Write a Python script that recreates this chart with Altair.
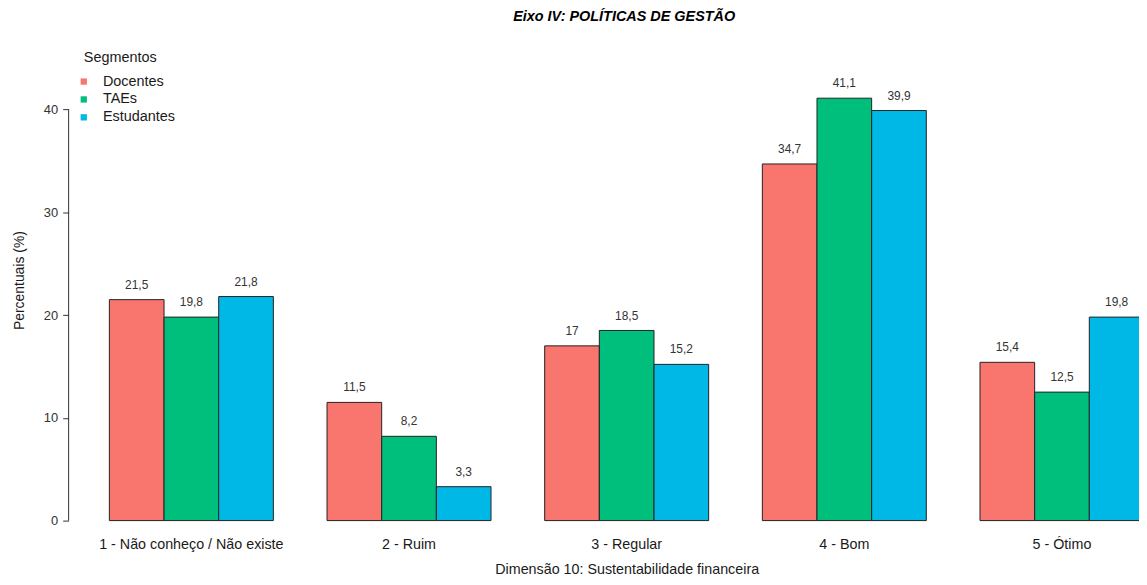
import altair as alt
import pandas as pd

categorias = ["1 - Não conheço / Não existe", "2 - Ruim", "3 - Regular", "4 - Bom", "5 - Ótimo"]
segmentos = ["Docentes", "TAEs", "Estudantes"]
docentes = [21.5, 11.5, 17, 34.7, 15.4]
taes = [19.8, 8.2, 18.5, 41.1, 12.5]
estudantes = [21.8, 3.3, 15.2, 39.9, 19.8]
cores = ["#F8766D", "#00BF7D", "#00B8E5"]

rows = []
for seg, vals in zip(segmentos, [docentes, taes, estudantes]):
    for cat, v in zip(categorias, vals):
        rows.append({"Categoria": cat, "Segmento": seg, "Valor": v,
                     "Rotulo": f"{v:g}".replace(".", ",")})
df = pd.DataFrame(rows)

FONT = "Liberation Sans, Arial, sans-serif"

x = alt.X("Categoria:N", sort=categorias,
          scale=alt.Scale(paddingInner=0.2466, paddingOuter=0, range=[0, 1041]),
          axis=alt.Axis(title="Dimensão 10: Sustentabilidade financeira", labelAngle=0,
                        domain=False, ticks=False, labelPadding=17, titlePadding=12,
                        labelLimit=400,
                        labelFontSize=14.4, titleFontSize=14.4, labelColor="#1a1a1a",
                        titleColor="#1a1a1a", titleFontWeight="normal"))
xo = alt.XOffset("Segmento:N", sort=segmentos, scale=alt.Scale(paddingInner=0, paddingOuter=0))
y = alt.Y("Valor:Q", scale=alt.Scale(domain=[0, 44], nice=False),
          axis=alt.Axis(title="Percentuais (%)", values=[0, 10, 20, 30, 40], grid=False,
                        domain=False, tickSize=6, tickColor="#333333", offset=41,
                        labelFontSize=13, titleFontSize=14, labelColor="#333333",
                        titleColor="#1a1a1a", titleFontWeight="normal", labelPadding=5,
                        titlePadding=17, titleY=213))

bars = alt.Chart(df).mark_bar(stroke="#222222", strokeWidth=1).encode(
    x=x, xOffset=xo, y=y,
    color=alt.Color("Segmento:N", sort=segmentos,
                    scale=alt.Scale(domain=segmentos, range=cores),
                    legend=alt.Legend(title=None, orient="none", legendX=-33, legendY=6,
                                      symbolType="square", symbolSize=40, symbolStrokeWidth=0,
                                      labelFontSize=14.5, rowPadding=3, labelColor="#1a1a1a",
                                      labelOffset=12))
)

labels = alt.Chart(df).mark_text(dy=-8, fontSize=12, color="#333333", baseline="bottom").encode(
    x=alt.X("Categoria:N", sort=categorias), xOffset=alt.XOffset("Segmento:N", sort=segmentos),
    y="Valor:Q", text="Rotulo:N"
)

legend_title = alt.Chart(pd.DataFrame({"t": ["Segmentos"]})).mark_text(
    fontSize=14.5, color="#1a1a1a", align="center", baseline="middle"
).encode(x=alt.value(11), y=alt.value(-10), text="t:N")

axisline = alt.Chart(pd.DataFrame({"a": [0], "b": [40]})).mark_rule(color="#333333", strokeWidth=1).encode(
    x=alt.value(-41), y=alt.Y("a:Q"), y2="b:Q"
)

chart = alt.layer(bars, labels, axisline, legend_title).properties(
    width=1036, height=455,
    title=alt.TitleParams("Eixo IV: POLÍTICAS DE GESTÃO", fontSize=14.5, fontWeight="bold",
                          fontStyle="italic", offset=26, color="#000000", anchor="middle"),
    padding={"left": 102, "top": 59, "right": 0, "bottom": 55},
    autosize=alt.AutoSizeParams(type="none"),
).configure(font=FONT).configure_view(stroke=None)

chart.save("out.html", embed_options={"renderer": "svg", "actions": False})
